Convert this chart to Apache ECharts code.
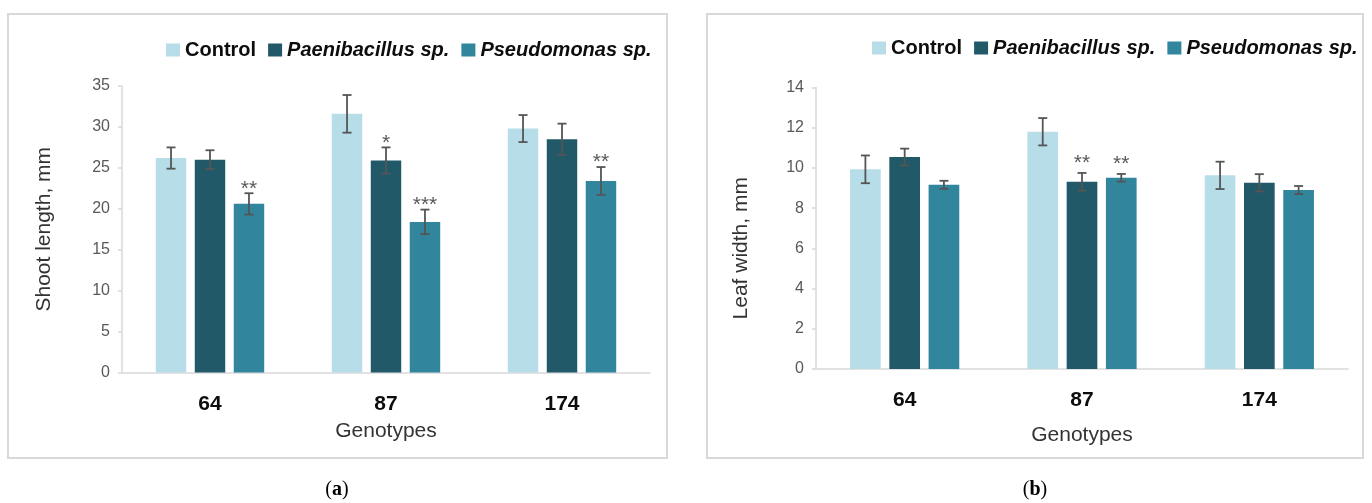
<!DOCTYPE html>
<html>
<head>
<meta charset="utf-8">
<script src="https://cdn.jsdelivr.net/npm/echarts@6/dist/echarts.min.js"></script>
<style>
  html, body { margin: 0; padding: 0; background: #ffffff; }
  #chart { width: 1372px; height: 503px; }
</style>
</head>
<body>
<div id="chart"></div>
<script>
// Genotypes on the x axis and the three treatments
const genotypes = ['64', '87', '174'];
const treatments = ['Control', 'Paenibacillus sp.', 'Pseudomonas sp.'];

// (a) Shoot length, mm: means, error bar half-widths, significance marks
const shootControl = [26.2, 31.6, 29.8];
const shootPaeni = [26.0, 25.9, 28.5];
const shootPseudo = [20.6, 18.4, 23.4];
const shootControlErr = [1.3, 2.3, 1.65];
const shootPaeniErr = [1.15, 1.6, 1.9];
const shootPseudoErr = [1.3, 1.5, 1.7];
const shootControlSig = ['', '', ''];
const shootPaeniSig = ['', '*', ''];
const shootPseudoSig = ['**', '***', '**'];

// (b) Leaf width, mm
const leafControl = [9.93, 11.8, 9.63];
const leafPaeni = [10.54, 9.31, 9.26];
const leafPseudo = [9.16, 9.51, 8.9];
const leafControlErr = [0.69, 0.68, 0.68];
const leafPaeniErr = [0.42, 0.44, 0.43];
const leafPseudoErr = [0.2, 0.19, 0.2];
const leafControlSig = ['', '', ''];
const leafPaeniSig = ['', '**', ''];
const leafPseudoSig = ['', '**', ''];

// Axis ranges
const shootAxis = { min: 0, max: 35, interval: 5 };
const leafAxis = { min: 0, max: 14, interval: 2 };

const colors = ['#b7dde8', '#215968', '#31859c'];
const FONT = "'Liberation Sans', Arial, sans-serif";
const BAR_FRAC = 0.173;   // bar width as a share of the category band
const GAP_FRAC = 0.28;    // gap between bars as a share of bar width

function errorBars(k, sig, starLift) {
  return function (params, api) {
    const ci = api.value(0);
    const v = api.value(1);
    const e = api.value(2);
    const band = api.size([1, 0])[0];
    const bw = band * BAR_FRAC;
    const step = bw * (1 + GAP_FRAC);
    const c = api.coord([ci, v]);
    const x = c[0] + (k - 1) * step;
    const yTop = api.coord([ci, v + e])[1];
    const yBot = api.coord([ci, v - e])[1];
    const cap = 4.5;
    const ls = { stroke: '#555555', lineWidth: 1.8 };
    const children = [
      { type: 'line', shape: { x1: x, y1: yTop, x2: x, y2: yBot }, style: ls },
      { type: 'line', shape: { x1: x - cap, y1: yTop, x2: x + cap, y2: yTop }, style: ls },
      { type: 'line', shape: { x1: x - cap, y1: yBot, x2: x + cap, y2: yBot }, style: ls }
    ];
    const s = sig[params.dataIndex];
    if (s) {
      children.push({
        type: 'text',
        style: {
          text: s, x: x, y: yTop - starLift + 5,
          align: 'center', verticalAlign: 'middle',
          font: '21px ' + FONT, fill: '#595959'
        }
      });
    }
    return { type: 'group', children: children };
  };
}

function zip(vals, errs) {
  return vals.map((v, i) => [i, v, errs[i]]);
}

function panelSeries(gi, vals, errs, sigs, starLift) {
  const out = [];
  vals.forEach((arr, k) => {
    out.push({
      name: treatments[k], type: 'bar', xAxisIndex: gi, yAxisIndex: gi,
      data: arr, barWidth: (BAR_FRAC * 100) + '%', barGap: (GAP_FRAC * 100) + '%',
      itemStyle: { color: colors[k] }, z: 2
    });
  });
  vals.forEach((arr, k) => {
    out.push({
      type: 'custom', xAxisIndex: gi, yAxisIndex: gi,
      data: zip(arr, errs[k]),
      renderItem: errorBars(k, sigs[k], starLift),
      silent: true, z: 5
    });
  });
  return out;
}

const legendData = treatments.map((t, i) => ({
  name: t,
  textStyle: i === 0 ? {} : { fontStyle: 'italic' }
}));

function legend(left, top) {
  return {
    left: left, top: top, padding: 0, icon: 'rect',
    itemWidth: 14, itemHeight: 13, itemGap: 12, selectedMode: false,
    data: legendData,
    textStyle: { fontFamily: FONT, fontSize: 20, fontWeight: 'bold', color: '#0d0d0d', padding: [0, 0, 0, 0] }
  };
}

function xAxis(gi, nameGap) {
  return {
    type: 'category', gridIndex: gi, data: genotypes,
    name: 'Genotypes', nameLocation: 'middle', nameGap: nameGap,
    nameTextStyle: { fontFamily: FONT, fontSize: 21, color: '#333333' },
    axisLine: { lineStyle: { color: '#d9d9d9', width: 1.5 } },
    axisTick: { show: false },
    axisLabel: { margin: 21, fontFamily: FONT, fontSize: 21, fontWeight: 'bold', color: '#0d0d0d' }
  };
}

function yAxis(gi, name, range, nameGap, pad) {
  return {
    type: 'value', gridIndex: gi, min: range.min, max: range.max, interval: range.interval,
    name: name, nameLocation: 'middle', nameGap: nameGap,
    nameTextStyle: { fontFamily: FONT, fontSize: 21, color: '#333333', padding: pad },
    axisLine: { show: true, lineStyle: { color: '#d9d9d9', width: 1.5 } },
    axisTick: { show: true, length: 4, lineStyle: { color: '#d9d9d9', width: 1.5 } },
    splitLine: { show: false },
    axisLabel: { margin: 12, fontFamily: FONT, fontSize: 16, color: '#595959' }
  };
}

const chart = echarts.init(document.getElementById('chart'), null, { renderer: 'canvas' });

chart.setOption({
  animation: false,
  backgroundColor: '#ffffff',
  legend: [legend(166, 40), legend(872, 38)],
  grid: [
    { left: 122, top: 86, width: 528, height: 286.5 },
    { left: 816, top: 87.5, width: 532, height: 281.5 }
  ],
  xAxis: [xAxis(0, 48), xAxis(1, 56)],
  yAxis: [
    yAxis(0, 'Shoot length, mm', shootAxis, 67, [0, 0, 0, 0]),
    yAxis(1, 'Leaf width, mm', leafAxis, 64, [0, 40, 0, 0])
  ],
  series: [].concat(
    panelSeries(0,
      [shootControl, shootPaeni, shootPseudo],
      [shootControlErr, shootPaeniErr, shootPseudoErr],
      [shootControlSig, shootPaeniSig, shootPseudoSig], 9.5),
    panelSeries(1,
      [leafControl, leafPaeni, leafPseudo],
      [leafControlErr, leafPaeniErr, leafPseudoErr],
      [leafControlSig, leafPaeniSig, leafPseudoSig], 15)
  ),
  graphic: [
    { type: 'rect', z: -1, shape: { x: 8, y: 14, width: 659, height: 444 },
      style: { fill: 'none', stroke: '#d9d9d9', lineWidth: 2 } },
    { type: 'rect', z: -1, shape: { x: 707, y: 14, width: 656, height: 444 },
      style: { fill: 'none', stroke: '#d9d9d9', lineWidth: 2 } },
    { type: 'text', x: 337, y: 490,
      style: { text: '({b|a})', align: 'center', verticalAlign: 'middle',
        font: "20px 'Liberation Serif', serif", fill: '#000000',
        rich: { b: { fontFamily: "'Liberation Serif', serif", fontSize: 20, fontWeight: 'bold', fill: '#000000' } } } },
    { type: 'text', x: 1035, y: 490,
      style: { text: '({b|b})', align: 'center', verticalAlign: 'middle',
        font: "20px 'Liberation Serif', serif", fill: '#000000',
        rich: { b: { fontFamily: "'Liberation Serif', serif", fontSize: 20, fontWeight: 'bold', fill: '#000000' } } } }
  ]
});
</script>
</body>
</html>
